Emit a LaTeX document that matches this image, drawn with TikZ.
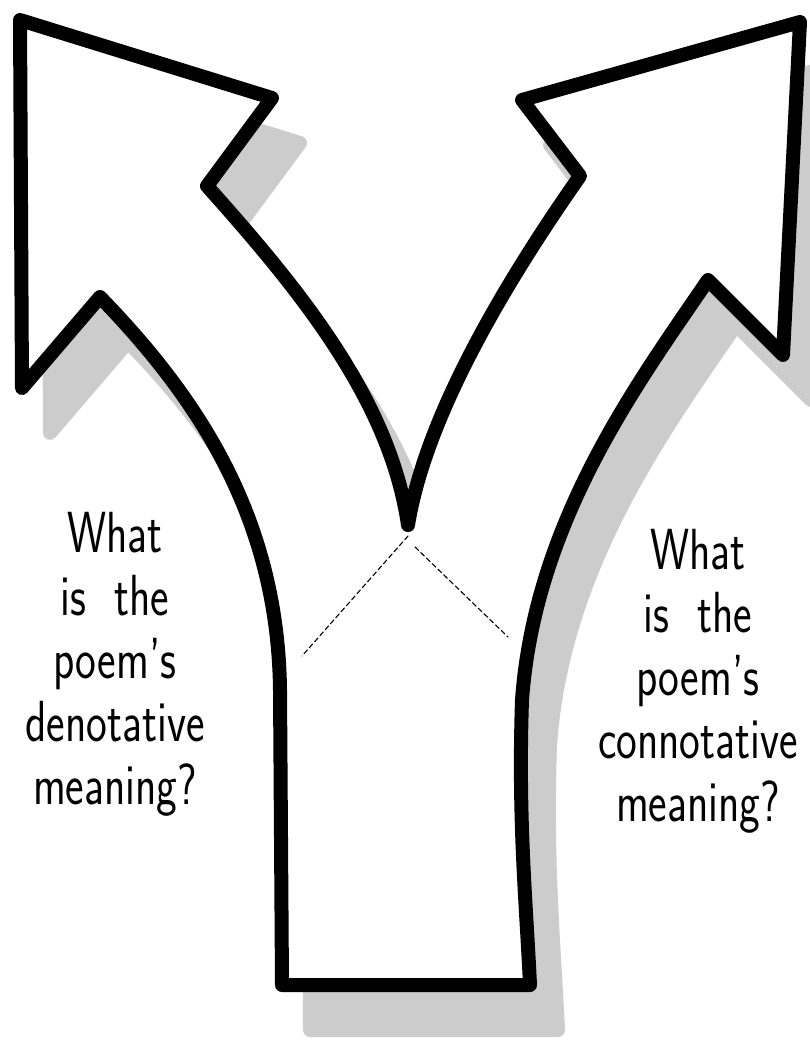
\documentclass[tikz,border=0pt]{standalone}
\usepackage{fontspec}
\newfontfamily\handfont{lmsans17-regular.otf}[FakeStretch=0.76,Ligatures=TeX]
\definecolor{shadowgray}{gray}{0.8}
\begin{document}
\begin{tikzpicture}[x=1pt,y=-1pt,line join=round,line cap=round,
	forkline/.style={draw=black,fill=white,line width=14pt},
	forkshadow/.style={draw=shadowgray,fill=shadowgray,line width=14pt},
	guide/.style={line width=1.1pt,dash pattern=on 5pt off 3pt},
	question/.style={font=\handfont\fontsize{58}{63}\selectfont,align=center,inner sep=0pt,anchor=north}]
	\def\sx{28} \def\sy{45}
	\def\forkpath{(20,20) -- (272,98) -- (207,186) .. controls (300,290) and (390,400) .. (408,525)
		.. controls (425,420) and (500,290) .. (580,176) -- (522,100) -- (800,22) -- (783,355) -- (708,280)
		.. controls (640,380) and (535,520) .. (522,700) .. controls (518,820) and (526,900) .. (530,985)
		-- (282,985) -- (280,690) .. controls (278,520) and (200,400) .. (100,297) -- (22,388) -- cycle}
	\useasboundingbox (0,0) rectangle (809,1041);
	\filldraw[forkshadow,shift={(\sx,\sy)}] \forkpath;
	\filldraw[forkline] \forkpath;
	\coordinate (vtip) at (408,536);
	\coordinate (vright) at (415,547);
	\coordinate (stemleft) at (302,656);
	\coordinate (stemright) at (508,637);
	\draw[guide] (vtip)--(stemleft);
	\draw[guide] (vright)--(stemright);
	\node[question] (denot) at (115,512) {What\\is\ \ the\\poem’s\\denotative\\meaning?};
	\node[question] (connot) at (698,529) {What\\is\ \ the\\poem’s\\connotative\\meaning?};
\end{tikzpicture}
\end{document}
